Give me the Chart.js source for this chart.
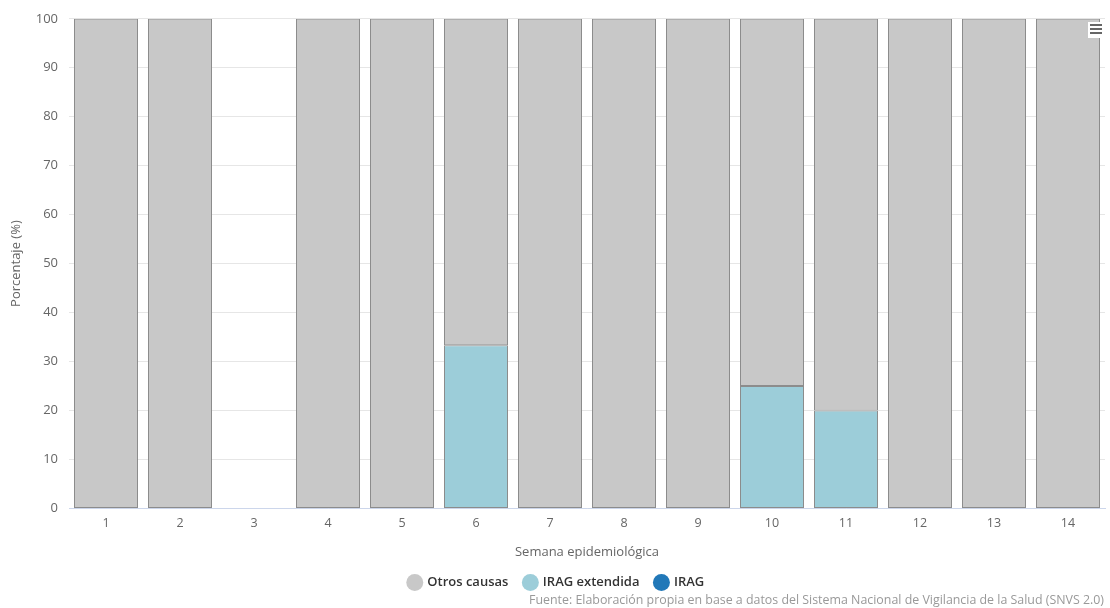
<!DOCTYPE html>
<html>
<head>
<meta charset="utf-8">
<script src="https://cdn.jsdelivr.net/npm/chart.js@4.4.0/dist/chart.umd.min.js"></script>
<style>
  html, body { margin: 0; padding: 0; background: #fff; }
  #wrap { position: relative; width: 1110px; height: 608px; font-family: "Open Sans", "DejaVu Sans", sans-serif; }
  #source { position: absolute; right: 6px; bottom: 0px; font-size: 12.4px; color: #999; }
  #menu { position: absolute; right: 6px; top: 22px; width: 16px; height: 16px; background: #fff; }
  #menu span { display: block; margin: 2px 2px 0 2px; height: 2px; background: #666; }
</style>
</head>
<body>
<div id="wrap">
  <canvas id="chart" width="1110" height="608"></canvas>
  <div id="menu"><span></span><span></span><span></span></div>
  <div id="source">Fuente: Elaboración propia en base a datos del Sistema Nacional de Vigilancia de la Salud (SNVS 2.0)</div>
</div>
<script>
const weeks = ['1', '2', '3', '4', '5', '6', '7', '8', '9', '10', '11', '12', '13', '14'];
const otrosCausas = [100, 100, null, 100, 100, 66.7, 100, 100, 100, 75, 80, 100, 100, 100];
const iragExtendida = [0, 0, null, 0, 0, 33.3, 0, 0, 0, 25, 20, 0, 0, 0];
const irag = [0, 0, null, 0, 0, 0, 0, 0, 0, 0, 0, 0, 0, 0];
const yTicks = [0, 10, 20, 30, 40, 50, 60, 70, 80, 90, 100];

const FONT = '"Open Sans", "DejaVu Sans", sans-serif';

function renderChart(canvasId) {
  const ctx = document.getElementById(canvasId).getContext('2d');
  // zero-height segments would otherwise leave a stray border line on the stack
  const bar = {
    borderWidth: (c) => (c.raw ? 1 : 0),
    borderColor: '#8c8c8c',
    borderSkipped: false,
    barPercentage: 0.865,
    categoryPercentage: 1
  };
  return new Chart(ctx, {
    type: 'bar',
    data: {
      labels: weeks,
      datasets: [
        { label: 'IRAG', data: irag, backgroundColor: '#2178b8', ...bar },
        { label: 'IRAG extendida', data: iragExtendida, backgroundColor: '#9ccdd9', ...bar },
        { label: 'Otros causas', data: otrosCausas, backgroundColor: '#c8c8c8', ...bar }
      ]
    },
    options: {
      responsive: false,
      animation: false,
      layout: { padding: { left: 8, right: 5, top: 16, bottom: 9 } },
      plugins: {
        legend: {
          position: 'bottom',
          reverse: true,
          labels: {
            usePointStyle: true,
            pointStyle: 'circle',
            boxWidth: 12,
            boxHeight: 12,
            padding: 16,
            color: '#333',
            font: { family: FONT, size: 13, weight: '600' },
            generateLabels: (chart) => Chart.defaults.plugins.legend.labels.generateLabels(chart)
              .map((l) => ({ ...l, lineWidth: 0, strokeStyle: 'rgba(0,0,0,0)' }))
          }
        },
        tooltip: { enabled: false }
      },
      scales: {
        x: {
          stacked: true,
          grid: { display: false, drawTicks: false },
          border: { color: '#ccd6eb' },
          ticks: { color: '#666', padding: 8, font: { family: FONT, size: 12.5 } },
          title: { display: true, text: 'Semana epidemiológica', color: '#666', padding: { top: 5, bottom: 0 }, font: { family: FONT, size: 13 } }
        },
        y: {
          stacked: true,
          min: 0,
          max: 100,
          afterBuildTicks: (s) => { s.ticks = yTicks.map((v) => ({ value: v })); },
          afterFit: (s) => { s.width = 61; },
          grid: { color: '#e6e6e6', drawTicks: false },
          border: { display: false },
          ticks: { color: '#666', padding: 11, font: { family: FONT, size: 13 } },
          title: { display: true, text: 'Porcentaje (%)', color: '#666', padding: 0, font: { family: FONT, size: 13 } }
        }
      }
    }
  });
}

renderChart('chart');
</script>
</body>
</html>
